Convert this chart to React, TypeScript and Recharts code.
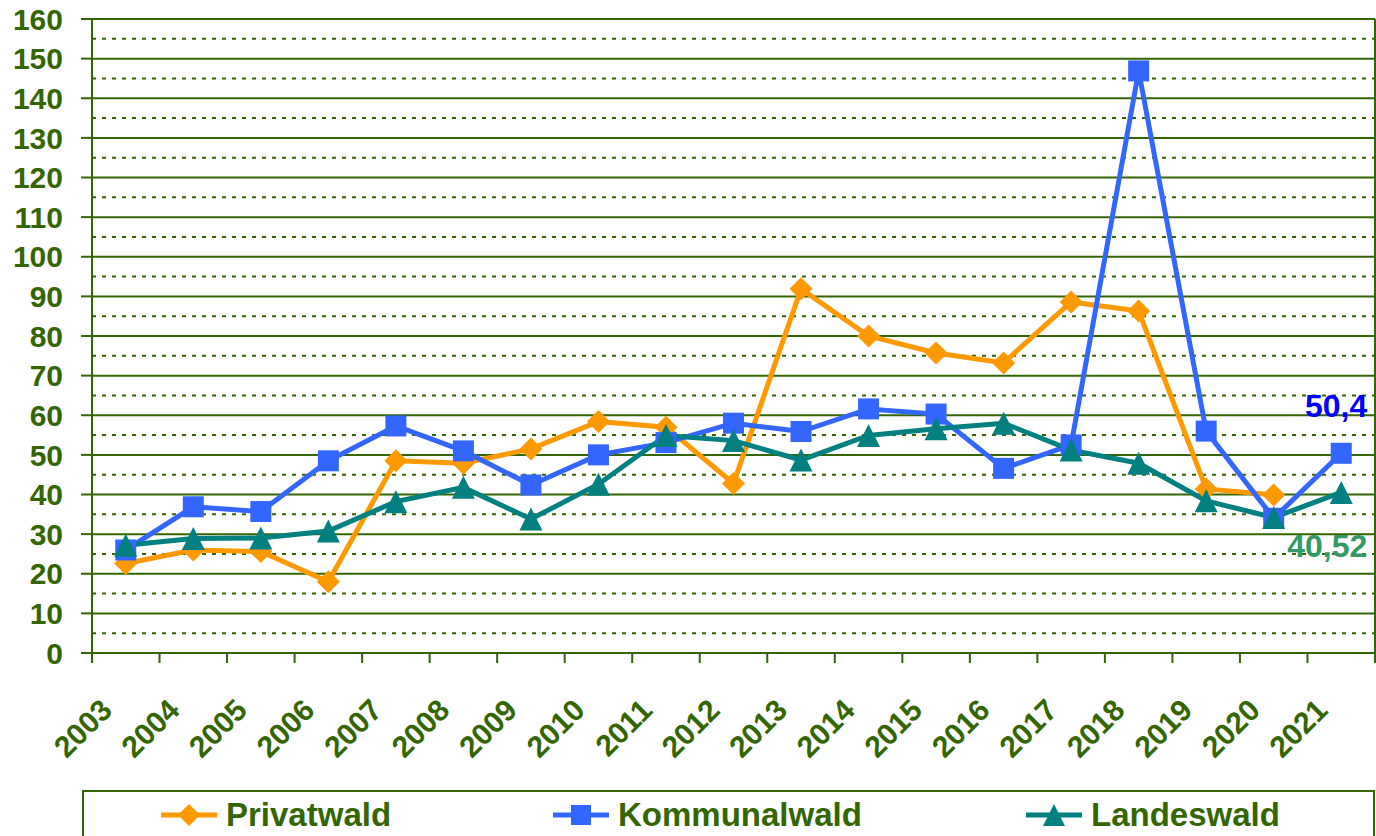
import React from 'react';
import { LineChart, Line, XAxis, YAxis, CartesianGrid, ReferenceLine, Legend } from 'recharts';

const years = ['2003','2004','2005','2006','2007','2008','2009','2010','2011','2012','2013','2014','2015','2016','2017','2018','2019','2020','2021'];
const privatwald = [22.6, 26.0, 25.6, 18.0, 48.5, 47.9, 51.5, 58.4, 57.0, 42.8, 91.9, 80.0, 75.7, 73.2, 88.6, 86.3, 41.4, 39.9, null];
const kommunalwald = [26.0, 36.9, 35.7, 48.5, 57.3, 51.0, 42.4, 50.0, 53.1, 58.0, 55.9, 61.6, 60.3, 46.6, 52.5, 146.9, 56.0, 34.0, 50.4];
const landeswald = [27.2, 28.9, 29.0, 30.8, 38.2, 41.8, 33.8, 42.6, 54.9, 53.6, 48.7, 54.9, 56.6, 58.0, 51.2, 47.9, 38.4, 34.2, 40.52];
const yTicks = [0, 10, 20, 30, 40, 50, 60, 70, 80, 90, 100, 110, 120, 130, 140, 150, 160];
const minorTicks = [5, 15, 25, 35, 45, 55, 65, 75, 85, 95, 105, 115, 125, 135, 145, 155];

const data = years.map((y, i) => ({
  year: y,
  Privatwald: privatwald[i],
  Kommunalwald: kommunalwald[i],
  Landeswald: landeswald[i],
}));

const W = 1376;
const H = 836;
const ML = 0;
const YW = 92;
const MR = 0;
const RYW = 1;
const BAND = (W - ML - YW - MR - RYW) / years.length;

const GREEN = '#336600';
const FONT = '"Liberation Sans", Arial, sans-serif';
const C_PRIV = '#FF9900';
const C_KOMM = '#3366FF';
const C_LAND = '#008080';

const Diamond = (props: any) => {
  const { cx, cy, fill } = props;
  if (cx == null || cy == null || props.value == null) return null;
  const r = 11.5;
  return <path d={`M${cx},${cy - r}L${cx + r},${cy}L${cx},${cy + r}L${cx - r},${cy}Z`} fill={fill} />;
};
const Square = (props: any) => {
  const { cx, cy, fill } = props;
  if (cx == null || cy == null) return null;
  const r = 10.5;
  return <rect x={cx - r} y={cy - r} width={2 * r} height={2 * r} fill={fill} />;
};
const Triangle = (props: any) => {
  const { cx, cy, fill } = props;
  if (cx == null || cy == null) return null;
  const r = 11.5;
  return <path d={`M${cx},${cy - r}L${cx + r},${cy + r}L${cx - r},${cy + r}Z`} fill={fill} />;
};

const XTick = (props: any) => {
  const { x, y, payload, index } = props;
  const ax = y - 10;
  const tx = x - 12;
  const ty = ax + 59;
  return (
    <g>
      <line x1={x - BAND / 2} y1={ax} x2={x - BAND / 2} y2={ax + 10} stroke={GREEN} strokeWidth={2} />
      {index === years.length - 1 && (
        <line x1={x + BAND / 2} y1={ax} x2={x + BAND / 2} y2={ax + 10} stroke={GREEN} strokeWidth={2} />
      )}
      <text x={tx} y={ty} textAnchor="end" transform={`rotate(-45, ${tx}, ${ty})`} fill={GREEN}
        fontFamily={FONT} fontWeight="bold" fontSize={30}>{payload.value}</text>
    </g>
  );
};

const lastLabel = (color: string, dx: number, dy: number) => (props: any) => {
  const { x, y, value, index } = props;
  if (index !== years.length - 1 || value == null) return null;
  return (
    <text x={x + dx} y={y + dy} textAnchor="end" dominantBaseline="central" fill={color}
      fontFamily={FONT} fontWeight="bold" fontSize={32}>{String(value).replace('.', ',')}</text>
  );
};

const LegendIcon = ({ color, shape }: { color: string; shape: string }) => (
  <svg width={58} height={26} style={{ display: 'block' }}>
    <line x1={1} y1={13} x2={57} y2={13} stroke={color} strokeWidth={5} />
    {shape === 'diamond' && <path d="M29,2L40,13L29,24L18,13Z" fill={color} />}
    {shape === 'square' && <rect x={19} y={3} width={20} height={20} fill={color} />}
    {shape === 'triangle' && <path d="M29,2L40,24L18,24Z" fill={color} />}
  </svg>
);

const legendItems = [
  { name: 'Privatwald', color: C_PRIV, shape: 'diamond', left: 76 },
  { name: 'Kommunalwald', color: C_KOMM, shape: 'square', left: 468 },
  { name: 'Landeswald', color: C_LAND, shape: 'triangle', left: 941 },
];

const LegendBox = () => (
  <div style={{ position: 'relative', width: 1293, height: 60, boxSizing: 'border-box', border: `2px solid ${GREEN}`, background: '#fff' }}>
    {legendItems.map((it) => (
      <div key={it.name} style={{ position: 'absolute', left: it.left, top: 10, display: 'flex', alignItems: 'center', height: 26 }}>
        <LegendIcon color={it.color} shape={it.shape} />
        <span style={{ marginLeft: 8, fontFamily: FONT, fontWeight: 'bold', fontSize: 33, color: GREEN, lineHeight: '26px' }}>{it.name}</span>
      </div>
    ))}
  </div>
);

export default function App() {
  return (
    <div style={{ position: 'absolute', left: 0, top: 0, width: W, height: H, background: '#fff', overflow: 'hidden' }}>
      <LineChart width={W} height={H} data={data} margin={{ top: 19, right: MR, left: ML, bottom: 0 }}>
        <CartesianGrid vertical={false} stroke={GREEN} strokeWidth={2} />
        {minorTicks.map((v) => (
          <ReferenceLine key={v} y={v} stroke={GREEN} strokeWidth={2} strokeDasharray="4 6" />
        ))}
        <XAxis dataKey="year" scale="band" height={123} interval={0} tickSize={10} tickMargin={0}
          tickLine={false} axisLine={{ stroke: GREEN, strokeWidth: 2 }} tick={<XTick />} />
        <YAxis domain={[0, 160]} ticks={yTicks} interval={0} width={YW} tickSize={11} tickMargin={18}
          axisLine={{ stroke: GREEN, strokeWidth: 2 }} tickLine={{ stroke: GREEN, strokeWidth: 2 }}
          tick={{ fill: GREEN, fontFamily: FONT, fontWeight: 'bold', fontSize: 30 }} />
        <YAxis yAxisId="r" orientation="right" width={RYW} tick={false} tickLine={false}
          axisLine={{ stroke: GREEN, strokeWidth: 2 }} />
        <Legend verticalAlign="bottom" height={60} content={<LegendBox />}
          wrapperStyle={{ position: 'absolute', left: 82, top: 790, width: 1293, height: 60 }} />
        <Line type="linear" dataKey="Privatwald" stroke={C_PRIV} strokeWidth={5} fill={C_PRIV}
          dot={<Diamond fill={C_PRIV} />} isAnimationActive={false} />
        <Line type="linear" dataKey="Kommunalwald" stroke={C_KOMM} strokeWidth={5} fill={C_KOMM}
          dot={<Square fill={C_KOMM} />} isAnimationActive={false} label={lastLabel('#0000FF', 26, -47)} />
        <Line type="linear" dataKey="Landeswald" stroke={C_LAND} strokeWidth={5} fill={C_LAND}
          dot={<Triangle fill={C_LAND} />} isAnimationActive={false} label={lastLabel('#339966', 26, 54)} />
      </LineChart>
    </div>
  );
}
